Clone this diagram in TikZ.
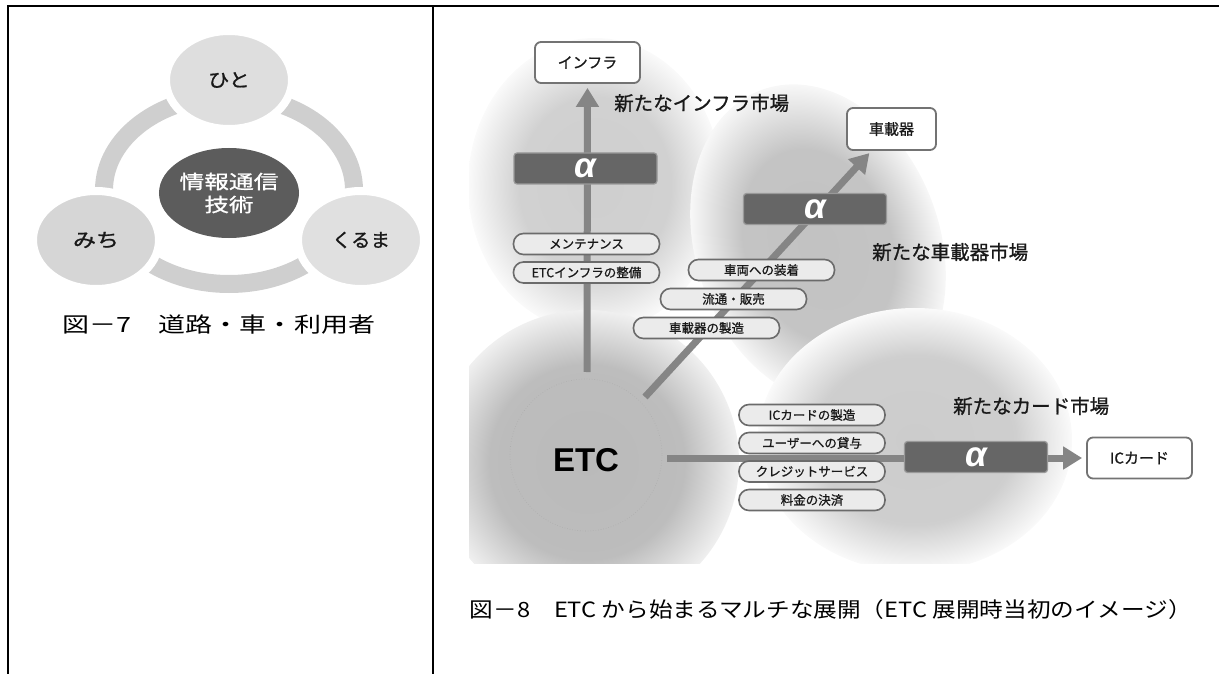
\documentclass[tikz,border=0pt]{standalone}
\usepackage{fontspec}
\usepackage{graphicx}
\setmainfont{Noto Sans CJK JP}[FakeBold=1.0]
\newfontfamily\capfont{Noto Sans CJK JP}
\newfontfamily\afont{Liberation Sans}
\usetikzlibrary{arrows.meta,shapes.geometric}
\pgfdeclareradialshading{shinfra}{\pgfpointorigin}{color(0bp)=(black!19); color(15bp)=(black!18); color(25bp)=(black!2); color(50bp)=(black!2)}
\pgfdeclareradialshading{shcar}{\pgfpointorigin}{color(0bp)=(black!24); color(15bp)=(black!23); color(25bp)=(black!3); color(50bp)=(black!3)}
\pgfdeclareradialshading{shcard}{\pgfpointorigin}{color(0bp)=(black!20); color(16bp)=(black!19); color(25bp)=(black!2); color(50bp)=(black!2)}
\pgfdeclareradialshading{shetc}{\pgfpointorigin}{color(0bp)=(black!27); color(16bp)=(black!26); color(25bp)=(black!6); color(50bp)=(black!6)}
\tikzset{
  arr/.style={draw=black!48, line width=7pt, -{Triangle[width=22pt,length=19pt]}},
  pill/.style={draw=black!58, line width=1.6pt, fill=black!8, rounded corners=10pt,
    minimum width=146pt, minimum height=21pt, inner sep=0pt, text=black!90,
    font=\fontsize{12.5}{13}\selectfont},
  abox/.style={fill=black!60, draw=black!40, line width=1.2pt, rounded corners=3pt,
    minimum width=143pt, minimum height=31pt, inner sep=0pt, text=white,
    font=\afont\bfseries\itshape\fontsize{35}{35}\selectfont},
  wbox/.style={fill=white, draw=black!55, line width=1.8pt, rounded corners=6pt,
    inner sep=0pt, text=black!90, font=\fontsize{15}{15}\selectfont},
  mlabel/.style={anchor=west, inner sep=0pt, text=black!90, font=\fontsize{19.5}{20}\selectfont},
  lcirc/.style={ellipse, draw=white, line width=8pt, inner sep=0pt,
    minimum width=126pt, minimum height=98pt, text=black!90, font=\fontsize{19}{19}\selectfont},
  ring/.style={draw=black!19, line width=18pt},
  frame/.style={draw=black, line width=2pt},
  caption/.style={inner sep=0pt, text=black, font=\capfont\fontsize{21}{21}\selectfont}
}
\begin{document}
\begin{tikzpicture}[x=1pt,y=-1pt]
\useasboundingbox (0,0) rectangle (1219,674);
% frame
\draw[frame] (8,674) -- (8,6) -- (1219,6);
\draw[frame] (433,6) -- (433,674);

% ---------- left panel ----------
\draw[ring] (229,190) ellipse (125 and 94);
\node[lcirc, fill=black!13] (hito) at (229,80) {\resizebox{42pt}{\height}{ひと}};
\node[lcirc, fill=black!16] (michi) at (96,240) {\resizebox{46pt}{\height}{みち}};
\node[lcirc, fill=black!12] (kuruma) at (361,240) {\resizebox{58pt}{\height}{くるま}};
\node[ellipse, fill=black!64, inner sep=0pt, minimum width=124pt, minimum height=90pt,
  text=white, align=center, font=\fontsize{19}{23}\selectfont] (ict) at (229,193)
  {\resizebox{99pt}{\height}{情報通信}\\\resizebox{49pt}{\height}{技術}};
\node[caption] (cap7) at (219,325)
  {\resizebox{312pt}{\height}{図－7　道路・車・利用者}};

% ---------- right panel: blobs ----------
\begin{scope}
\clip (469,10) rectangle (1219,563);
\shade[shading=shinfra] (595,185) ellipse (127 and 147);
\shade[shading=shcar, transform canvas={shift={(818,245)}, rotate=20}] (0,0) ellipse (122 and 165);
\shade[shading=shcard] (915,440) ellipse (157 and 132);
\shade[shading=shetc] (587,462) ellipse (152 and 152);
\end{scope}
\draw[black!32, dotted, line width=0.6pt] (586,455) ellipse (76 and 76);

% ---------- nodes ----------
\coordinate (vstart) at (587,372);
\coordinate (dstart) at (645,397);
\coordinate (hstart) at (667,458);

\node[wbox, minimum width=105pt, minimum height=41pt] (infra) at (587.5,62.5) {インフラ};
\node[wbox, minimum width=89pt, minimum height=42pt] (car) at (891.5,129) {車載器};
\node[wbox, minimum width=105pt, minimum height=41pt] (ic) at (1139.5,458) {ICカード};

\draw[arr, shorten >=4pt] (vstart) -- (infra.south);
\draw[arr, shorten >=3pt] (dstart) -- (car);
\draw[arr, shorten >=4pt] (hstart) -- (ic.west);

\node[abox] (a1) at (585.5,168.5) {α};
\node[abox] (a2) at (815,209) {α};
\node[abox] (a3) at (976,457) {α};

\node[pill] (p1) at (586.5,244) {メンテナンス};
\node[pill] (p2) at (586.5,272.5) {ETCインフラの整備};
\node[pill] (p3) at (761.5,270) {車両への装着};
\node[pill] (p4) at (733.5,299) {流通・販売};
\node[pill] (p5) at (706.5,328) {車載器の製造};
\node[pill] (p6) at (812,415) {ICカードの製造};
\node[pill] (p7) at (812,443) {ユーザーへの貸与};
\node[pill] (p8) at (812,471.5) {クレジットサービス};
\node[pill] (p9) at (812,500) {料金の決済};

\node[mlabel] (m1) at (614,103) {新たなインフラ市場};
\node[mlabel] (m2) at (872,252) {新たな車載器市場};
\node[mlabel] (m3) at (953,406) {新たなカード市場};

\node[font=\afont\bfseries\fontsize{33}{33}\selectfont, inner sep=0pt] (etc) at (586,460) {ETC};

\node[caption] (cap8) at (831,610)
  {\resizebox{722pt}{\height}{図－8　ETC から始まるマルチな展開（ETC 展開時当初のイメージ）}};
\end{tikzpicture}
\end{document}
